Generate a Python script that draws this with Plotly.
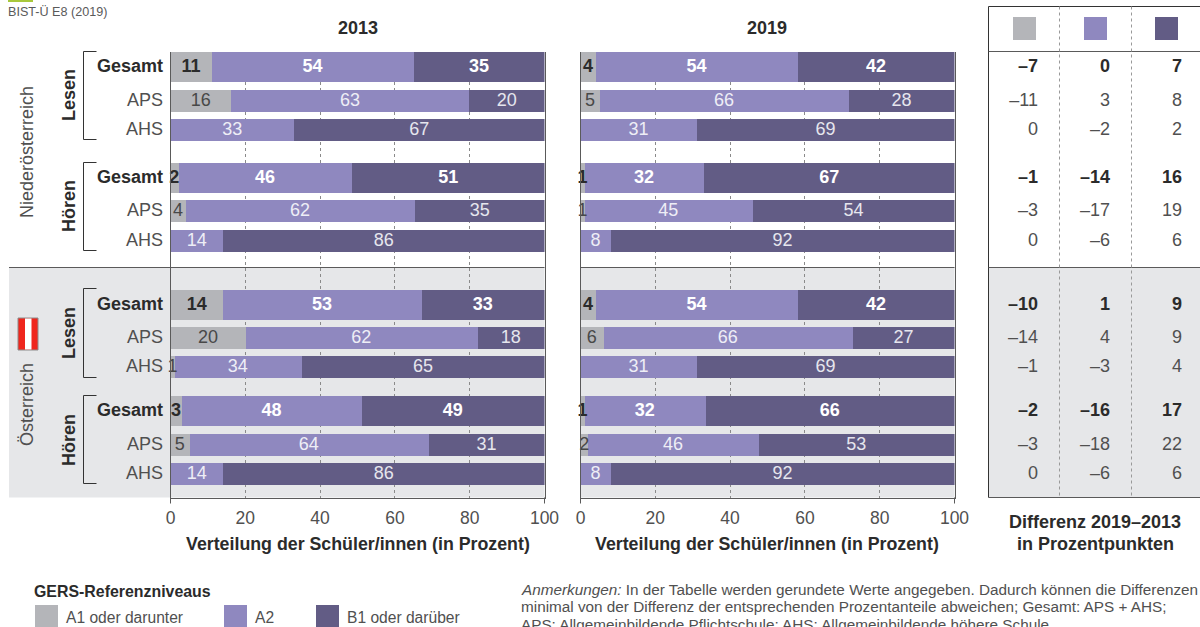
import plotly.graph_objects as go

W, H = 1200, 627

# ---------- data ----------
row_labels = ["Gesamt", "APS", "AHS", "Gesamt", "APS", "AHS",
              "Gesamt", "APS", "AHS", "Gesamt", "APS", "AHS"]
levels = ["A1 oder darunter", "A2", "B1 oder darüber"]

a1_2013 = [11, 16, 0, 2, 4, 0, 14, 20, 1, 3, 5, 0]
a2_2013 = [54, 63, 33, 46, 62, 14, 53, 62, 34, 48, 64, 14]
b1_2013 = [35, 20, 67, 51, 35, 86, 33, 18, 65, 49, 31, 86]

a1_2019 = [4, 5, 0, 1, 1, 0, 4, 6, 0, 1, 2, 0]
a2_2019 = [54, 66, 31, 32, 45, 8, 54, 66, 31, 32, 46, 8]
b1_2019 = [42, 28, 69, 67, 54, 92, 42, 27, 69, 66, 53, 92]

diff_a1 = [-7, -11, 0, -1, -3, 0, -10, -14, -1, -2, -3, 0]
diff_a2 = [0, 3, -2, -14, -17, -6, 1, 4, -3, -16, -18, -6]
diff_b1 = [7, 8, 2, 16, 19, 6, 9, 9, 4, 17, 22, 6]

# ---------- layout constants (pixels) ----------
row_y = [66, 100, 129, 177, 210, 240, 304, 337, 366, 410, 444, 473]
row_h = [30, 22, 22, 30, 22, 22, 30, 22, 22, 30, 22, 22]
label_y = [y + 1 for y in row_y]
P1 = (170.5, 544.5)
P2 = (580.5, 954.5)
T = (988.5, 1200)
TOP, BOT, BAND = 51.5, 497.5, 267.5
col_right = [1038, 1110, 1182]

GREY, MID, DARK = "#b4b5b9", "#8f88bf", "#625c85"
BANDC = "#e6e7e9"
LINE = "#5a5a5a"
TXT = "#505050"
BOLDTXT = "#2b2b2b"
FONT = "Liberation Sans"


def px(x):
    return x / W


def py(y):
    return 1 - y / H


fig = go.Figure()


def minus(v):
    return str(v).replace("-", "–")


def seg_text(vals, color_reg, color_bold):
    txt, col = [], []
    for i, v in enumerate(vals):
        if v == 0:
            txt.append("")
        elif i % 3 == 0:
            txt.append(f"<b>{v}</b>")
        else:
            txt.append(str(v))
        col.append(color_bold if i % 3 == 0 else color_reg)
    return txt, col


def panel(a1, a2, b1, ax):
    xa, ya = f"x{ax}", f"y{ax}"
    totals = [p + q + r for p, q, r in zip(a1, a2, b1)]
    starts = [0.0] * len(a1)
    for vals, colr, cr, cb in ((a1, GREY, "#484848", BOLDTXT),
                               (a2, MID, "#eeeef6", "#ffffff"),
                               (b1, DARK, "#e6e6ee", "#ffffff")):
        w = [v / t * 100 for v, t in zip(vals, totals)]
        fig.add_trace(go.Bar(x=w, y=row_y, base=starts, width=row_h, orientation="h",
                             marker=dict(color=colr, line=dict(width=0)),
                             xaxis=xa, yaxis=ya, showlegend=False))
        mids = [s + q / 2 for s, q in zip(starts, w)]
        txt, col = seg_text(vals, cr, cb)
        fig.add_trace(go.Scatter(x=mids, y=label_y, mode="text", text=txt,
                                 textposition="middle center", cliponaxis=False,
                                 textfont=dict(family=FONT, size=18, color=col),
                                 xaxis=xa, yaxis=ya, showlegend=False))
        starts = [s + q for s, q in zip(starts, w)]


panel(a1_2013, a2_2013, b1_2013, "")
panel(a1_2019, a2_2019, b1_2019, "2")

for cx, vals in zip(col_right, (diff_a1, diff_a2, diff_b1)):
    txt = [f"<b>{minus(v)}</b>" if i % 3 == 0 else minus(v) for i, v in enumerate(vals)]
    col = [BOLDTXT if i % 3 == 0 else TXT for i in range(len(vals))]
    fig.add_trace(go.Scatter(x=[cx] * len(vals), y=label_y, mode="text", text=txt,
                             textposition="middle left", cliponaxis=False,
                             textfont=dict(family=FONT, size=18, color=col),
                             xaxis="x3", yaxis="y3", showlegend=False))

shapes, ann = [], []


def rect(x0, y0, x1, y1, color, line=None):
    shapes.append(dict(type="rect", xref="paper", yref="paper", layer="below",
                       x0=px(x0), x1=px(x1), y0=py(y0), y1=py(y1), fillcolor=color,
                       line=dict(width=1 if line else 0, color=line or color)))


def seg(x0, y0, x1, y1, color=LINE, width=1, dash="solid", layer="above"):
    shapes.append(dict(type="line", xref="paper", yref="paper", layer=layer,
                       x0=px(x0), x1=px(x1), y0=py(y0), y1=py(y1),
                       line=dict(color=color, width=width, dash=dash)))


def text(x, y, s, size=18, color=TXT, anchor="center", angle=0):
    ann.append(dict(xref="paper", yref="paper", x=px(x), y=py(y), text=s, showarrow=False,
                    xanchor=anchor, yanchor="middle", textangle=angle, align="left",
                    font=dict(family=FONT, size=size, color=color),
                    xshift=0, yshift=0, borderpad=0, borderwidth=0))


# grey band behind the Austria block
rect(9, BAND, P1[1], BOT, BANDC)
rect(P2[0], BAND, P2[1], BOT, BANDC)
rect(T[0], BAND, T[1], BOT, BANDC)
seg(9, BAND, P1[1], BAND)
seg(P2[0], BAND, P2[1], BAND)

# axis end ticks
for p in (P1, P2):
    for xv in p:
        seg(xv, BOT, xv, 503.5)

# table frame
seg(T[0], 6.5, T[0], BOT, "#333333")
seg(T[0], 6.5, T[1], 6.5, "#333333")
seg(T[0], TOP, T[1], TOP)
seg(T[0], BAND, T[1], BAND)
seg(T[0], BOT, T[1], BOT)
for xv in (1059.5, 1131.5):
    seg(xv, 6.5, xv, BOT, "#999999", 1, "3px,3px")
for x0, c in zip((1013, 1084, 1155), (GREY, MID, DARK)):
    rect(x0, 17, x0 + 23, 40, c)

# brackets
for y0, y1 in ((51.5, 139.5), (162.5, 250.5), (288.5, 377.5), (395.5, 483.5)):
    seg(96.5, y0, 83.5, y0, "#333333")
    seg(83.5, y0, 83.5, y1, "#333333")
    seg(83.5, y1, 96.5, y1, "#333333")

# row labels
for y, lab, i in zip(row_y, row_labels, range(12)):
    if i % 3 == 0:
        text(163, y, f"<b>{lab}</b>", 18, BOLDTXT, "right")
    else:
        text(163, y, lab, 18, TXT, "right")

for y, lab in ((95, "Lesen"), (206, "Hören"), (333, "Lesen"), (440, "Hören")):
    text(69, y, f"<b>{lab}</b>", 18, BOLDTXT, angle=-90)
text(27, 152, "Niederösterreich", 18, TXT, angle=-90)
text(27, 405, "Österreich", 18, TXT, angle=-90)

# flag
rect(18, 318, 38, 350, "#ef261d", "#8c8c8c")
rect(25, 318.5, 31.5, 349.5, "#ffffff")

# titles
text(357.5, 28, "<b>2013</b>", 18, BOLDTXT)
text(767.5, 28, "<b>2019</b>", 18, BOLDTXT)
text(357.5, 544, "<b>Verteilung der Schüler/innen (in Prozent)</b>", 17.8, BOLDTXT)
text(767.5, 544, "<b>Verteilung der Schüler/innen (in Prozent)</b>", 17.8, BOLDTXT)
text(1095, 522, "<b>Differenz 2019–2013</b>", 18, BOLDTXT)
text(1095, 544, "<b>in Prozentpunkten</b>", 18, BOLDTXT)

# header
rect(8, -2, 33, 2, "#a8c83c")
text(8, 12, "BIST-Ü E8 (2019)", 12.6, "#5a5a5a", "left")

# legend
text(34, 591, "<b>GERS-Referenzniveaus</b>", 15.9, BOLDTXT, "left")
for x0, c, lab in zip((35, 224, 316), (GREY, MID, DARK), levels):
    rect(x0, 605, x0 + 23, 628, c)
    text(x0 + 30.5, 617, lab, 15.6, TXT, "left")

# notes
notes = ["<i>Anmerkungen:</i> In der Tabelle werden gerundete Werte angegeben. Dadurch können die Differenzen",
         "minimal von der Differenz der entsprechenden Prozentanteile abweichen; Gesamt: APS + AHS;",
         "APS: Allgemeinbildende Pflichtschule; AHS: Allgemeinbildende höhere Schule."]
for y, s in zip((589.5, 606.5, 624), notes):
    text(520.5, y, s, 15.3, TXT, "left")

xa_common = dict(range=[0, 100], dtick=20, tick0=0, showgrid=True, gridcolor="#8a8a8a",
                 griddash="3px,3px", gridwidth=1, zeroline=False, showline=True, linecolor=LINE,
                 linewidth=1, ticks="", ticklabelstandoff=4, automargin=False,
                 tickfont=dict(family=FONT, size=17.5, color=TXT), fixedrange=True)
ya_common = dict(range=[BOT, TOP], domain=[py(BOT), py(TOP)], showgrid=False, zeroline=False,
                 showticklabels=False, ticks="", showline=True, mirror=True, linecolor=LINE,
                 linewidth=1, fixedrange=True, automargin=False)

fig.update_layout(
    width=W, height=H, margin=dict(l=0, r=0, t=0, b=0), autosize=False,
    paper_bgcolor="white", plot_bgcolor="rgba(0,0,0,0)", barmode="overlay", bargap=0,
    showlegend=False, shapes=shapes, annotations=ann,
    xaxis=dict(domain=[px(P1[0]), px(P1[1])], anchor="y", **xa_common),
    yaxis=dict(anchor="x", **ya_common),
    xaxis2=dict(domain=[px(P2[0]), px(P2[1])], anchor="y2", **xa_common),
    yaxis2=dict(anchor="x2", **ya_common),
    xaxis3=dict(domain=[px(T[0]), px(T[1])], range=list(T), anchor="y3", visible=False,
                fixedrange=True, automargin=False),
    yaxis3=dict(range=[BOT, TOP], domain=[py(BOT), py(TOP)], anchor="x3", visible=False,
                fixedrange=True, automargin=False),
)

fig.write_html("out.html", post_script="document.body.style.margin='0';",
               config=dict(displayModeBar=False))
